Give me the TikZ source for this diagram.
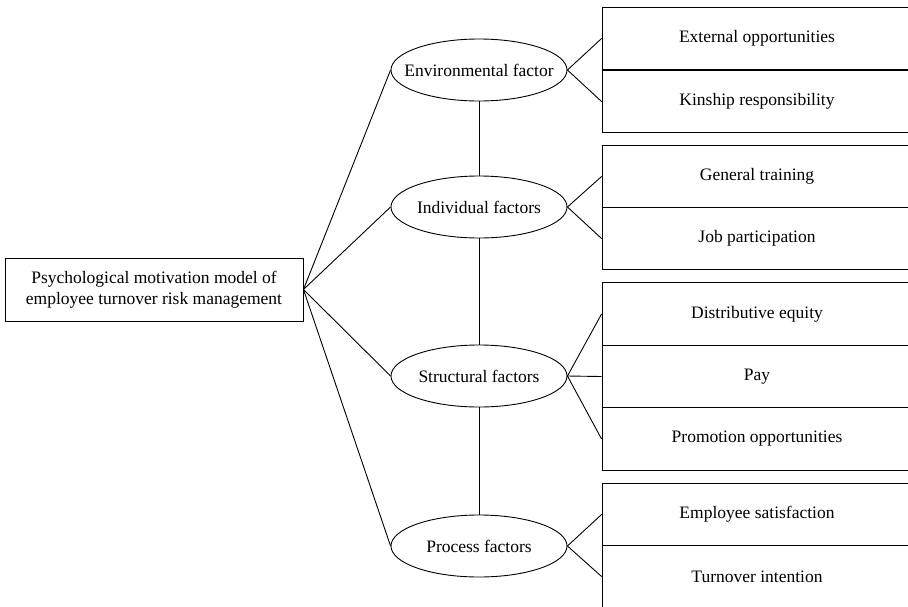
\documentclass[tikz,border=0pt]{standalone}
\usepackage{fontspec}
\setmainfont{Liberation Serif}
\usetikzlibrary{shapes.geometric}
\begin{document}
\begin{tikzpicture}[x=1pt,y=-1pt,line width=0.9pt,
  every node/.style={font=\fontsize{17.5}{21}\selectfont},
  mainbox/.style={draw,rectangle,minimum width=298pt,minimum height=63pt,align=center,inner sep=0pt},
  fac/.style={draw,ellipse,minimum width=176pt,minimum height=62pt,inner xsep=-30pt,inner ysep=0pt},
  cell/.style={draw,rectangle,minimum width=310pt,minimum height=62.5pt,inner sep=0pt}]
\useasboundingbox (0,0) rectangle (908,606);
\node[mainbox] (m) at (154,289.5) {Psychological motivation model of\\employee turnover risk management};
\node[fac] (e1) at (479,70) {Environmental factor};
\node[fac] (e2) at (479,207) {Individual factors};
\node[fac] (e3) at (479,376) {Structural factors};
\node[fac] (e4) at (479,546) {Process factors};
\node[cell] (c11) at (757,38.5) {External opportunities};
\node[cell] (c12) at (757,101.5) {Kinship responsibility};
\node[cell] (c21) at (757,176.5) {General training};
\node[cell] (c22) at (757,238.5) {Job participation};
\node[cell] (c31) at (757,314) {Distributive equity};
\node[cell] (c32) at (757,376.5) {Pay};
\node[cell] (c33) at (757,439) {Promotion opportunities};
\node[cell] (c41) at (757,514.5) {Employee satisfaction};
\node[cell] (c42) at (757,576.5) {Turnover intention};
\foreach \e in {e1,e2,e3,e4} \draw (m.east) -- (\e.west);
\draw (e1.south) -- (e2.north);
\draw (e2.south) -- (e3.north);
\draw (e3.south) -- (e4.north);
\draw (e1.east) -- (c11.west);
\draw (e1.east) -- (c12.west);
\draw (e2.east) -- (c21.west);
\draw (e2.east) -- (c22.west);
\draw (e3.east) -- (c31.west);
\draw (e3.east) -- (c32.west);
\draw (e3.east) -- (c33.west);
\draw (e4.east) -- (c41.west);
\draw (e4.east) -- (c42.west);
\end{tikzpicture}
\end{document}
